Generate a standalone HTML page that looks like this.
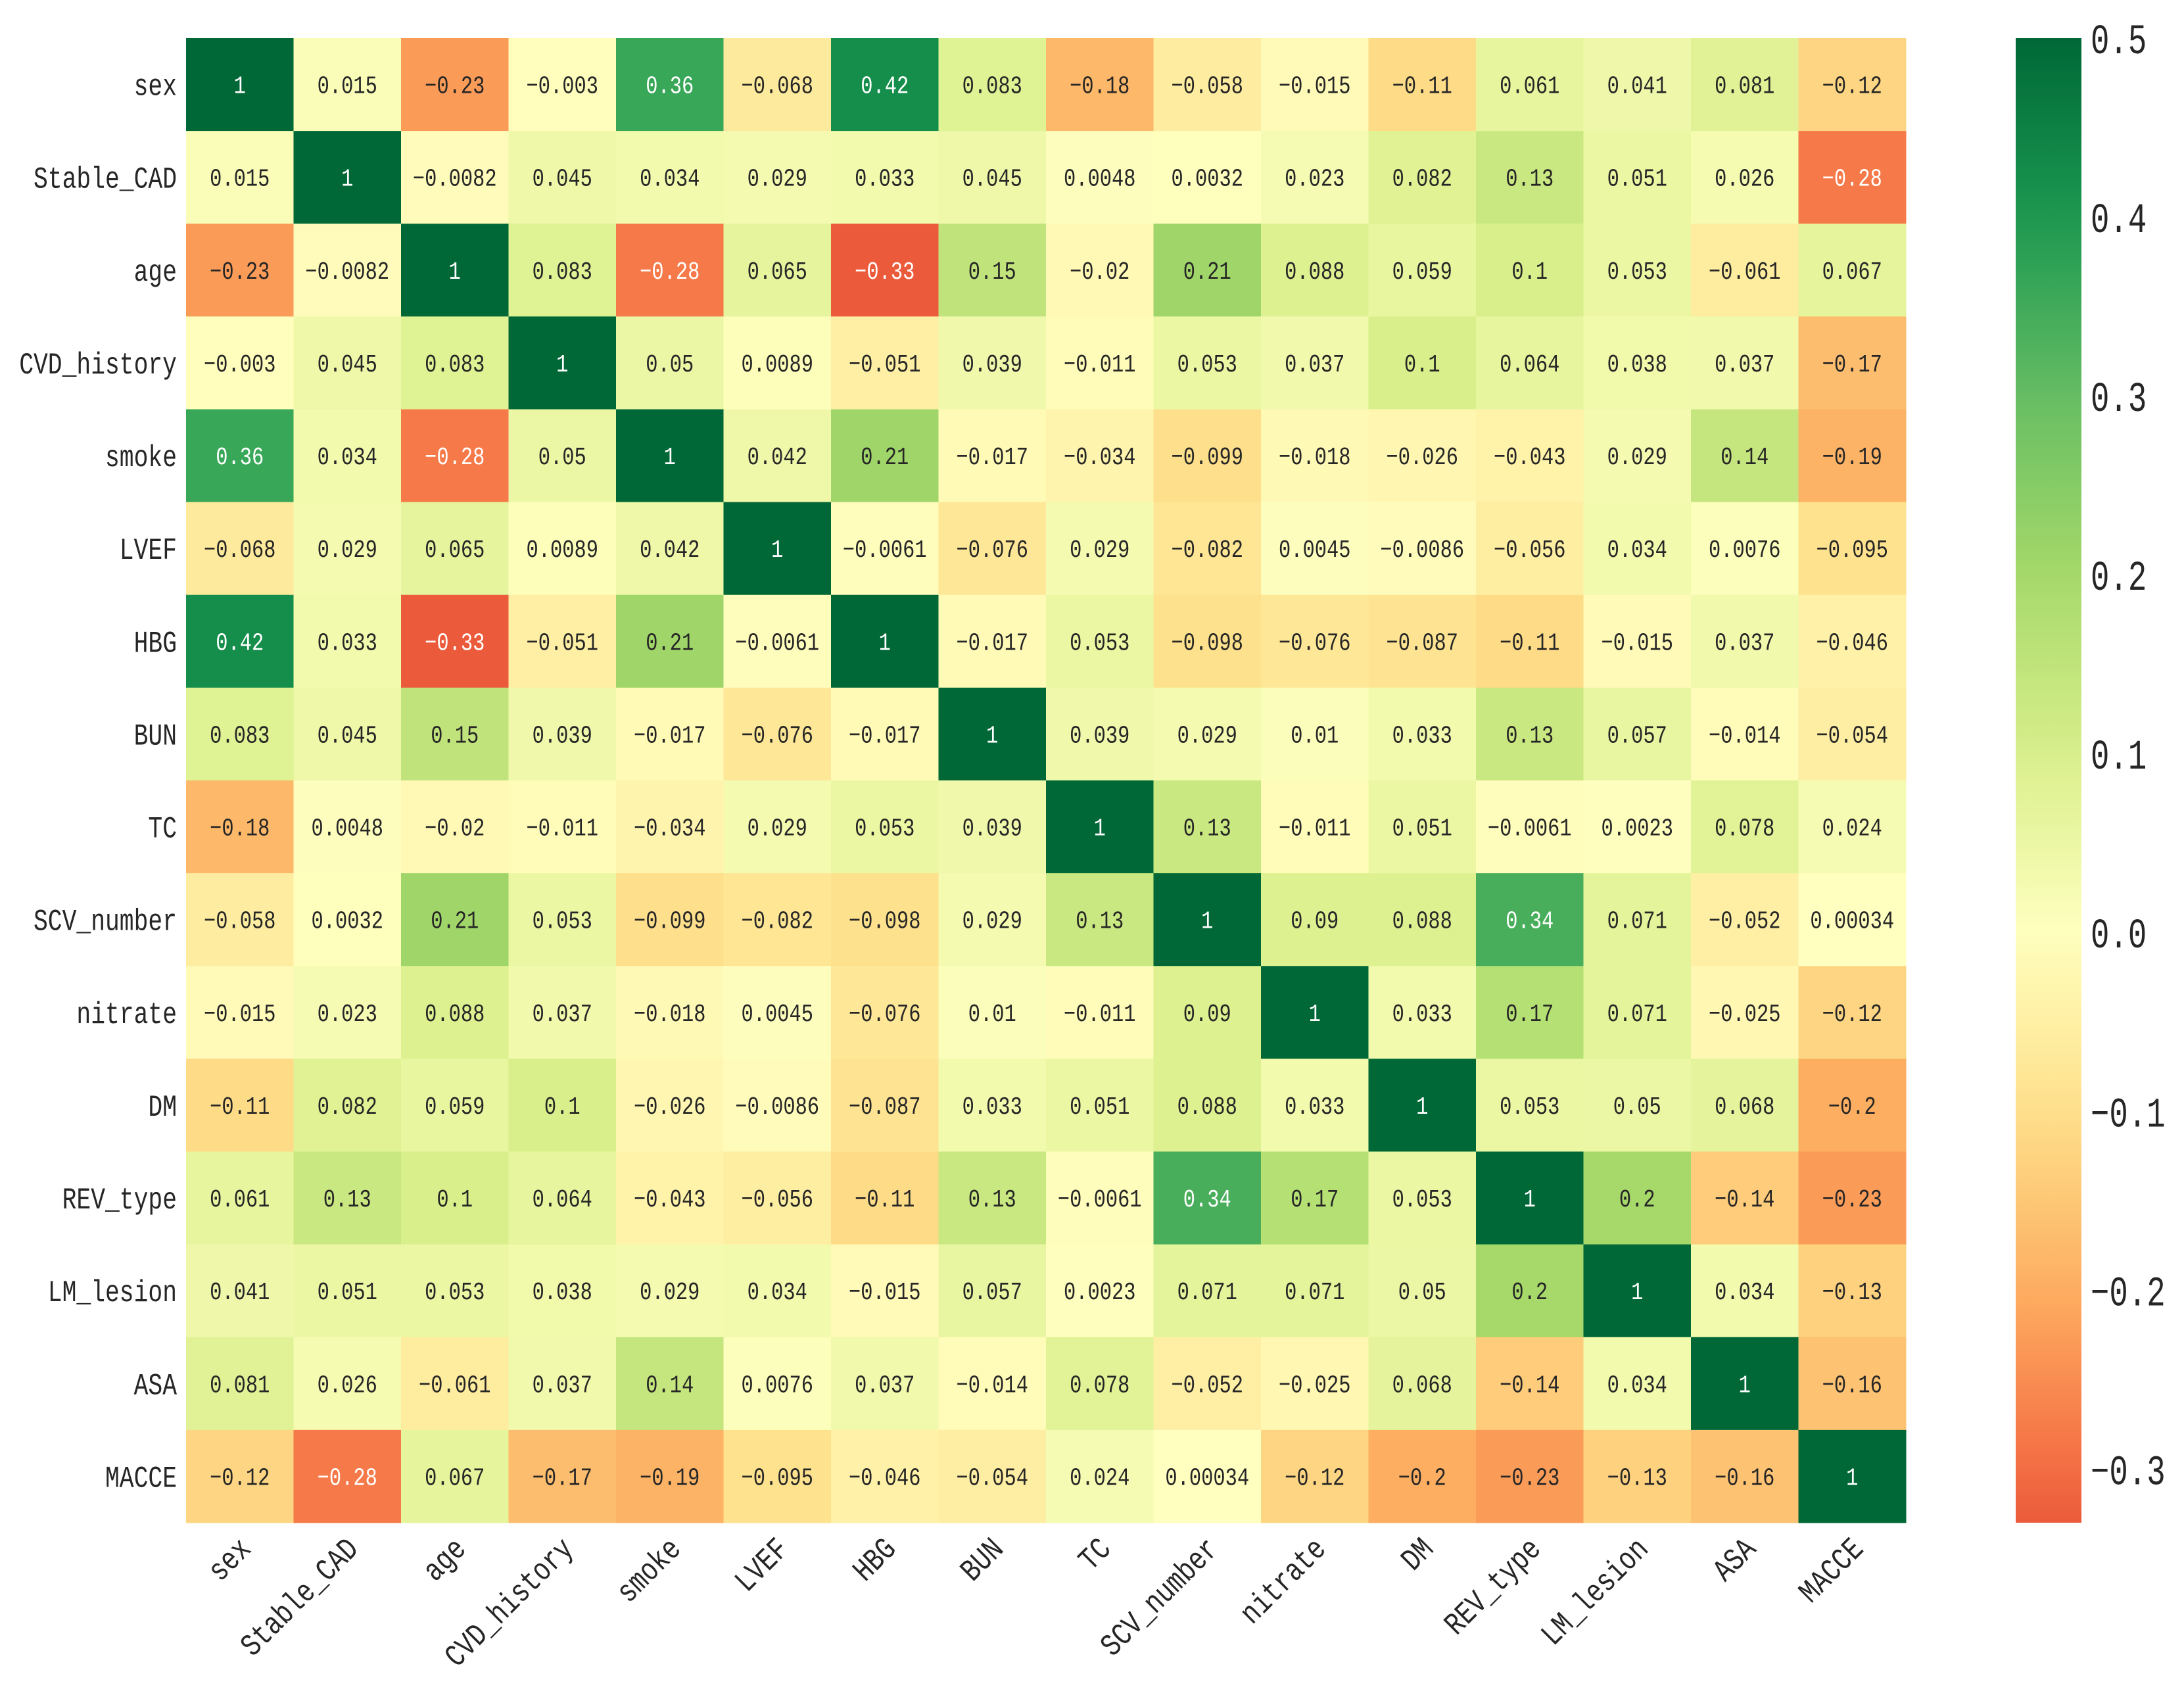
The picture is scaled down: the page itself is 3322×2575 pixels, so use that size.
<!DOCTYPE html>
<html><head><meta charset="utf-8"><style>
html,body{margin:0;padding:0;background:#fff;}
svg{display:block;}
text{font-family:"Liberation Mono","WenQuanYi Zen Hei",monospace;}
</style></head><body>
<svg id="chart" width="3322" height="2575" viewBox="0 0 3322 2575" xmlns="http://www.w3.org/2000/svg">
<defs><linearGradient id="cbgrad" x1="0" y1="1" x2="0" y2="0"></linearGradient></defs>
<g id="cells"></g>
<g id="ylabels"></g>
<g id="xlabels"></g>
<g id="cbar"></g>
</svg>
<script>
const labels = ["sex","Stable_CAD","age","CVD_history","smoke","LVEF","HBG","BUN","TC","SCV_number","nitrate","DM","REV_type","LM_lesion","ASA","MACCE"];
const row0 = [1,0.015,-0.23,-0.003,0.36,-0.068,0.42,0.083,-0.18,-0.058,-0.015,-0.11,0.061,0.041,0.081,-0.12];
const row1 = [0.015,1,-0.0082,0.045,0.034,0.029,0.033,0.045,0.0048,0.0032,0.023,0.082,0.13,0.051,0.026,-0.28];
const row2 = [-0.23,-0.0082,1,0.083,-0.28,0.065,-0.33,0.15,-0.02,0.21,0.088,0.059,0.1,0.053,-0.061,0.067];
const row3 = [-0.003,0.045,0.083,1,0.05,0.0089,-0.051,0.039,-0.011,0.053,0.037,0.1,0.064,0.038,0.037,-0.17];
const row4 = [0.36,0.034,-0.28,0.05,1,0.042,0.21,-0.017,-0.034,-0.099,-0.018,-0.026,-0.043,0.029,0.14,-0.19];
const row5 = [-0.068,0.029,0.065,0.0089,0.042,1,-0.0061,-0.076,0.029,-0.082,0.0045,-0.0086,-0.056,0.034,0.0076,-0.095];
const row6 = [0.42,0.033,-0.33,-0.051,0.21,-0.0061,1,-0.017,0.053,-0.098,-0.076,-0.087,-0.11,-0.015,0.037,-0.046];
const row7 = [0.083,0.045,0.15,0.039,-0.017,-0.076,-0.017,1,0.039,0.029,0.01,0.033,0.13,0.057,-0.014,-0.054];
const row8 = [-0.18,0.0048,-0.02,-0.011,-0.034,0.029,0.053,0.039,1,0.13,-0.011,0.051,-0.0061,0.0023,0.078,0.024];
const row9 = [-0.058,0.0032,0.21,0.053,-0.099,-0.082,-0.098,0.029,0.13,1,0.09,0.088,0.34,0.071,-0.052,0.00034];
const row10 = [-0.015,0.023,0.088,0.037,-0.018,0.0045,-0.076,0.01,-0.011,0.09,1,0.033,0.17,0.071,-0.025,-0.12];
const row11 = [-0.11,0.082,0.059,0.1,-0.026,-0.0086,-0.087,0.033,0.051,0.088,0.033,1,0.053,0.05,0.068,-0.2];
const row12 = [0.061,0.13,0.1,0.064,-0.043,-0.056,-0.11,0.13,-0.0061,0.34,0.17,0.053,1,0.2,-0.14,-0.23];
const row13 = [0.041,0.051,0.053,0.038,0.029,0.034,-0.015,0.057,0.0023,0.071,0.071,0.05,0.2,1,0.034,-0.13];
const row14 = [0.081,0.026,-0.061,0.037,0.14,0.0076,0.037,-0.014,0.078,-0.052,-0.025,0.068,-0.14,0.034,1,-0.16];
const row15 = [-0.12,-0.28,0.067,-0.17,-0.19,-0.095,-0.046,-0.054,0.024,0.00034,-0.12,-0.2,-0.23,-0.13,-0.16,1];
const matrix = [row0,row1,row2,row3,row4,row5,row6,row7,row8,row9,row10,row11,row12,row13,row14,row15];
const cbTicks = [-0.3,-0.2,-0.1,0.0,0.1,0.2,0.3,0.4,0.5];
const cbTickLabels = ["−0.3","−0.2","−0.1","0.0","0.1","0.2","0.3","0.4","0.5"];
const vmin = -0.33, vmax = 0.5, center = 0;

const NS = "http://www.w3.org/2000/svg";
const X0 = 283, X1 = 2899, Y0 = 58, Y1 = 2316;
const n = labels.length;
const cw = (X1 - X0) / n, ch = (Y1 - Y0) / n;
const xPos = i => X0 + i * cw;
const yPos = j => Y0 + j * ch;

const stops = ["#a50026","#d73027","#f46d43","#fdae61","#fee08b","#ffffbf","#d9ef8b","#a6d96a","#66bd63","#1a9850","#006837"];
function hex(h){return [parseInt(h.slice(1,3),16),parseInt(h.slice(3,5),16),parseInt(h.slice(5,7),16)];}
function cmap(t){
  t = Math.max(0, Math.min(1, t));
  const p = t * 10, i = Math.min(9, Math.floor(p)), f = p - i;
  const a = hex(stops[i]), b = hex(stops[i+1]);
  return a.map((c,k)=>Math.round(c + (b[k]-c)*f));
}
const vrange = Math.max(vmax - center, center - vmin);
function colorOf(v){
  const vc = Math.max(vmin, Math.min(vmax, v));
  return cmap((vc - (center - vrange)) / (2 * vrange));
}
function lum(rgb){
  const l = rgb.map(c=>{c/=255;return c<=0.03928?c/12.92:Math.pow((c+0.055)/1.055,2.4);});
  return 0.2126*l[0]+0.7152*l[1]+0.0722*l[2];
}
const rgbStr = c => `rgb(${c[0]},${c[1]},${c[2]})`;
function mkText(parent, str, x, y, size, sx, anchor, fill, rot){
  const t = document.createElementNS(NS, "text");
  t.textContent = str;
  t.setAttribute("x", 0); t.setAttribute("y", 0);
  t.setAttribute("font-size", size);
  t.setAttribute("fill", fill);
  t.setAttribute("text-anchor", anchor);
  t.setAttribute("transform", `translate(${x},${y})` + (rot ? ` rotate(${rot})` : "") + ` scale(${sx},1)`);
  parent.appendChild(t);
  return t;
}
const fmt = v => String(v).replace("-", "−");

const gCells = document.getElementById("cells");
matrix.forEach((row, j) => {
  row.forEach((v, i) => {
    const c = colorOf(v);
    const r = document.createElementNS(NS, "rect");
    r.setAttribute("x", xPos(i)); r.setAttribute("y", yPos(j));
    r.setAttribute("width", cw + 0.5); r.setAttribute("height", ch + 0.5);
    r.setAttribute("fill", rgbStr(c));
    
    
    gCells.appendChild(r);
    const t = mkText(gCells, fmt(v), xPos(i) + cw/2, yPos(j) + ch/2 + 13, 38, 0.8, "middle", lum(c) > 0.408 ? "#262626" : "#ffffff");
    
    
  });
});

const gY = document.getElementById("ylabels");
labels.forEach((l, j) => {
  const t = mkText(gY, l, 269, yPos(j) + ch/2 + 16, 46, 0.79, "end", "#262626");
  
  
});
const gX = document.getElementById("xlabels");
labels.forEach((l, i) => {
  const t = mkText(gX, l, xPos(i) + cw/2 + 19, Y1 + 42, 48, 0.8, "end", "#262626", -45);
  
  
});

// colorbar
const CB0 = 3066, CB1 = 3166;
const cbY = v => Y1 - (v - vmin) / (vmax - vmin) * (Y1 - Y0);
const grad = document.getElementById("cbgrad");
for (let k = 0; k <= 20; k++) {
  const v = vmin + (vmax - vmin) * k / 20;
  const s = document.createElementNS(NS, "stop");
  s.setAttribute("offset", (k/20*100) + "%");
  s.setAttribute("stop-color", rgbStr(colorOf(v)));
  grad.appendChild(s);
}
const gCb = document.getElementById("cbar");
const cbr = document.createElementNS(NS, "rect");
cbr.setAttribute("x", CB0); cbr.setAttribute("y", Y0);
cbr.setAttribute("width", CB1 - CB0); cbr.setAttribute("height", Y1 - Y0);
cbr.setAttribute("fill", "url(#cbgrad)");


gCb.appendChild(cbr);
cbTicks.forEach((v, k) => {
  const t = mkText(gCb, cbTickLabels[k], 3180, cbY(v) + 23, 64, 0.74, "start", "#262626");
  
  
});
</script>
</body></html>
